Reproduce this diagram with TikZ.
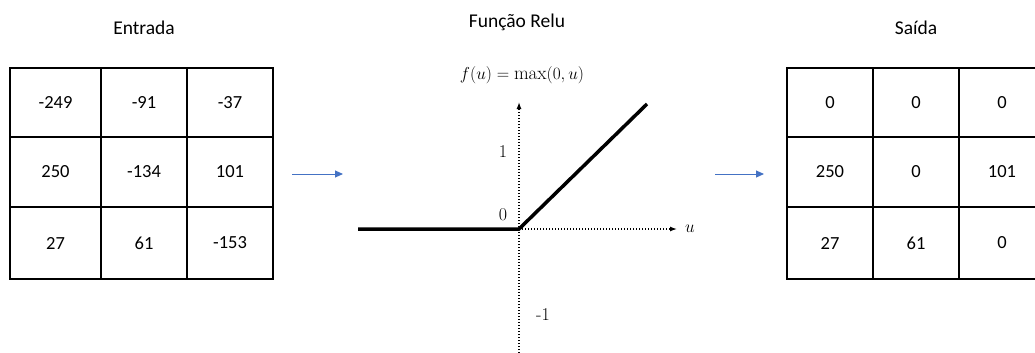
\documentclass[tikz,border=0pt]{standalone}
\usepackage{fontspec}
\newfontfamily\calib{Carlito}
\usetikzlibrary{arrows.meta}
\definecolor{arrowblue}{HTML}{4472C4}
\begin{document}
\begin{tikzpicture}[x=1pt,y=-1pt,
  lbl/.style={font=\calib\fontsize{19.5}{23}\selectfont, inner sep=0pt},
  cell/.style={draw=black, line width=1.3pt, minimum width=86pt, minimum height=70pt, inner sep=0pt, anchor=center, font=\calib\fontsize{18.5}{22}\selectfont},
  flow/.style={draw=arrowblue, line width=1pt, -{Triangle[length=8pt,width=7pt]}},
  axis/.style={draw=black, line width=1.3pt, dash pattern=on 1.2pt off 1.8pt, -{Latex[length=7pt,width=5pt]}},
  relu/.style={draw=black, line width=3.5pt},
  tick/.style={font=\fontsize{18}{20}\selectfont, inner sep=0pt}
]
\useasboundingbox (0,0) rectangle (1035,353);
\begin{scope}
\clip (0,0) rectangle (1035,353);
% left grid
\node[cell, minimum width=91pt, minimum height=69pt] (a11) at (55.5,102.5) {-249};
\node[cell, minimum height=69pt] (a12) at (144,102.5) {-91};
\node[cell, minimum height=69pt] (a13) at (230,102.5) {-37};
\node[cell, minimum width=91pt] (a21) at (55.5,172) {250};
\node[cell] (a22) at (144,172) {-134};
\node[cell] (a23) at (230,172) {101};
\node[cell, minimum width=91pt, minimum height=72pt] (a31) at (55.5,243) {27};
\node[cell, minimum height=72pt] (a32) at (144,243) {61};
\node[cell, minimum height=72pt] (a33) at (230,243) {-153};
% right grid
\node[cell, minimum height=69pt] (b11) at (830,102.5) {0};
\node[cell, minimum height=69pt] (b12) at (916,102.5) {0};
\node[cell, minimum height=69pt] (b13) at (1002,102.5) {0};
\node[cell] (b21) at (830,172) {250};
\node[cell] (b22) at (916,172) {0};
\node[cell] (b23) at (1002,172) {101};
\node[cell, minimum height=72pt] (b31) at (830,243) {27};
\node[cell, minimum height=72pt] (b32) at (916,243) {61};
\node[cell, minimum height=72pt] (b33) at (1002,243) {0};
\end{scope}
% titles
\node[lbl] (tin) at (144,28) {Entrada};
\node[lbl] (tfn) at (517,22) {Função Relu};
\node[lbl] (tout) at (916,28) {Saída};
% flow arrows
\coordinate (f1s) at (292,174);
\coordinate (f1e) at (343,174);
\coordinate (f2s) at (715,174);
\coordinate (f2e) at (764,174);
\draw[flow] (f1s) -- (f1e);
\draw[flow] (f2s) -- (f2e);
% relu plot
\coordinate (o) at (519,229);
\coordinate (ybot) at (519,353);
\coordinate (ytop) at (519,102);
\coordinate (xend) at (677,229);
\coordinate (lft) at (358,229);
\coordinate (rtop) at (647,104);
\draw[axis] (ybot) -- (ytop);
\draw[axis] (o) -- (xend);
\draw[relu, line cap=butt] (lft) -- (o) -- (rtop);
\node[inner sep=0pt, font=\fontsize{19}{21}\selectfont] (ulab) at (690,229) {$u$};
\node[tick] (t1) at (503,152) {1};
\node[tick] (t0) at (503,215) {0};
\node[tick] (tm1) at (543,315) {-1};
\node[inner sep=0pt, font=\fontsize{19}{21}\selectfont] (form) at (522,75) {$f(u)=\max(0,u)$};
\end{tikzpicture}
\end{document}
